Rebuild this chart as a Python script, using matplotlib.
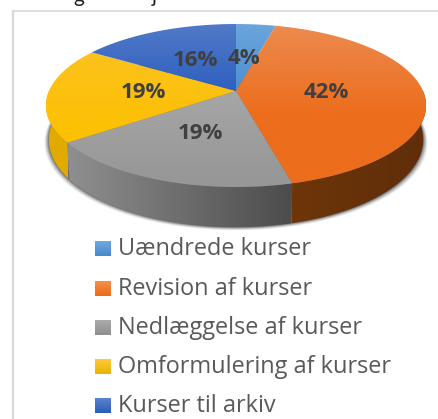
import numpy as np
import matplotlib
matplotlib.use("Agg")
import matplotlib.pyplot as plt
from matplotlib.colors import LinearSegmentedColormap
from matplotlib.patches import Polygon, Rectangle

# Data
kategorier = ["Uændrede kurser", "Revision af kurser", "Nedlæggelse af kurser",
              "Omformulering af kurser", "Kurser til arkiv"]
procenter = [4, 42, 19, 19, 16]
top_lys = ["#6aa5dc", "#ec8a4e", "#a6a6a6", "#fcc21c", "#5079c8"]
top_mork = ["#4f8fd0", "#ec6d1c", "#979797", "#fcc000", "#2f60be"]
side_lys = ["#3d74a8", "#6e3508", "#8f8f8f", "#e2aa00", "#27509c"]
side_mork = ["#2f5b85", "#5f2e0a", "#4c4c4c", "#e2aa00", "#1e3f7c"]
legend_lys = ["#70a9e0", "#f4904f", "#ababab", "#ffc93a", "#5b83d0"]
legend_mork = ["#4589cc", "#ec6a14", "#8f8f8f", "#e8b400", "#2a5cb8"]

W, H = 438, 419
CX, CY = 236, 91
RX, RY = 187, 78.9
K = 0.178
D = 33
BUND = 0.985


def projektion(theta):
    x = np.sin(theta)
    z = np.cos(theta)
    n = 1 + K * z
    return CX + RX * x / n, CY - RY * z / n, D / n


def gradient(ax, clip, c1, c2, box, vertical=True, stop=1.0):
    # Gradient tegnet som billede og klippet til polygonen
    stops = [(0, c1), (stop, c2)] + ([(1, c2)] if stop < 1 else [])
    cmap = LinearSegmentedColormap.from_list("g", stops)
    g = np.linspace(0, 1, 64)
    g = g[:, None] if vertical else g[None, :]
    im = ax.imshow(g, cmap=cmap, extent=box, aspect="auto", zorder=clip.get_zorder(),
                   interpolation="bilinear")
    im.set_clip_path(clip)


fig = plt.figure(figsize=(W / 100, H / 100), dpi=100)
ax = fig.add_axes([0, 0, 1, 1])
ax.set_xlim(0, W)
ax.set_ylim(H, 0)
ax.axis("off")

# Ramme
ax.plot([13, 13], [H, 11.5], color="#d9d9d9", lw=1.6, zorder=1)
ax.plot([13, W], [11.5, 11.5], color="#d9d9d9", lw=1.2, zorder=1)

# Rest af overskriften, skaaret af i toppen
for bogstav, bx_tekst in zip(["g", "j"], [79, 154]):
    ax.text(bx_tekst, -4, bogstav, ha="center", va="center", fontsize=15, color="#222222",
            family="Lato", zorder=1)

# Skygge
t = np.linspace(0, 2 * np.pi, 240)
sx, sy, sd = projektion(t)
bx = CX + (sx - CX) * BUND
by = sy + sd
for grow, a in zip([4.5, 3.5, 2.5, 1.5, 0.5], [0.08, 0.12, 0.17, 0.25, 0.35]):
    ax.add_patch(Polygon(np.c_[CX + (bx - CX) * (1 + grow / 190), by + grow * 0.7],
                         color="#2a2a2a", alpha=a, lw=0, zorder=2))

kant = np.cumsum([0] + procenter) / sum(procenter) * 2 * np.pi

# Sider
for i in range(len(procenter)):
    a = np.linspace(kant[i], kant[i + 1], 80)
    a = a[np.cos(a) < 0.05]
    if len(a) < 2:
        continue
    x, y, d = projektion(a)
    x2 = CX + (x - CX) * BUND
    pts = np.r_[np.c_[x, y], np.c_[x2, y + d][::-1]]
    p = Polygon(pts, closed=True, lw=0, zorder=3, facecolor="none")
    ax.add_patch(p)
    box = (x.min(), x.max(), y.max() + d.max(), y.min())
    gradient(ax, p, side_lys[i], side_mork[i], box, vertical=False)

# Top
for i in range(len(procenter)):
    a = np.linspace(kant[i], kant[i + 1], 120)
    x, y, d = projektion(a)
    pts = np.r_[[[CX, CY]], np.c_[x, y]]
    p = Polygon(pts, closed=True, lw=0, zorder=4, facecolor="none")
    ax.add_patch(p)
    y0, y1 = pts[:, 1].min(), pts[:, 1].max()
    gradient(ax, p, top_lys[i], top_mork[i], (pts[:, 0].min(), pts[:, 0].max(), y1, y0),
             stop=min(1.0, 90 / (y1 - y0)))

# Procenttal
etiket_x = [244, 326, 200, 143, 195]
etiket_y = [58, 92, 133, 92, 60]
for v, ex, ey in zip(procenter, etiket_x, etiket_y):
    ax.text(ex, ey, f"{v}%", ha="center", va="center", fontsize=16, fontweight="bold",
            color="#404040", family="Open Sans", zorder=5)

# Forklaring
legend_y = [249, 289, 328, 367, 406]
for navn, lys, mork, ly in zip(kategorier, legend_lys, legend_mork, legend_y):
    r = Rectangle((95, ly - 8), 16, 15, facecolor="none", lw=0, zorder=5)
    ax.add_patch(r)
    gradient(ax, r, lys, mork, (95, 111, ly + 7, ly - 8))
    ax.text(118, ly, navn, ha="left", va="center", fontsize=16.9, color="#595959",
            family="Open Sans", zorder=5)

ax.set_xlim(0, W)
ax.set_ylim(H, 0)
fig.savefig("out.png", dpi=100)
